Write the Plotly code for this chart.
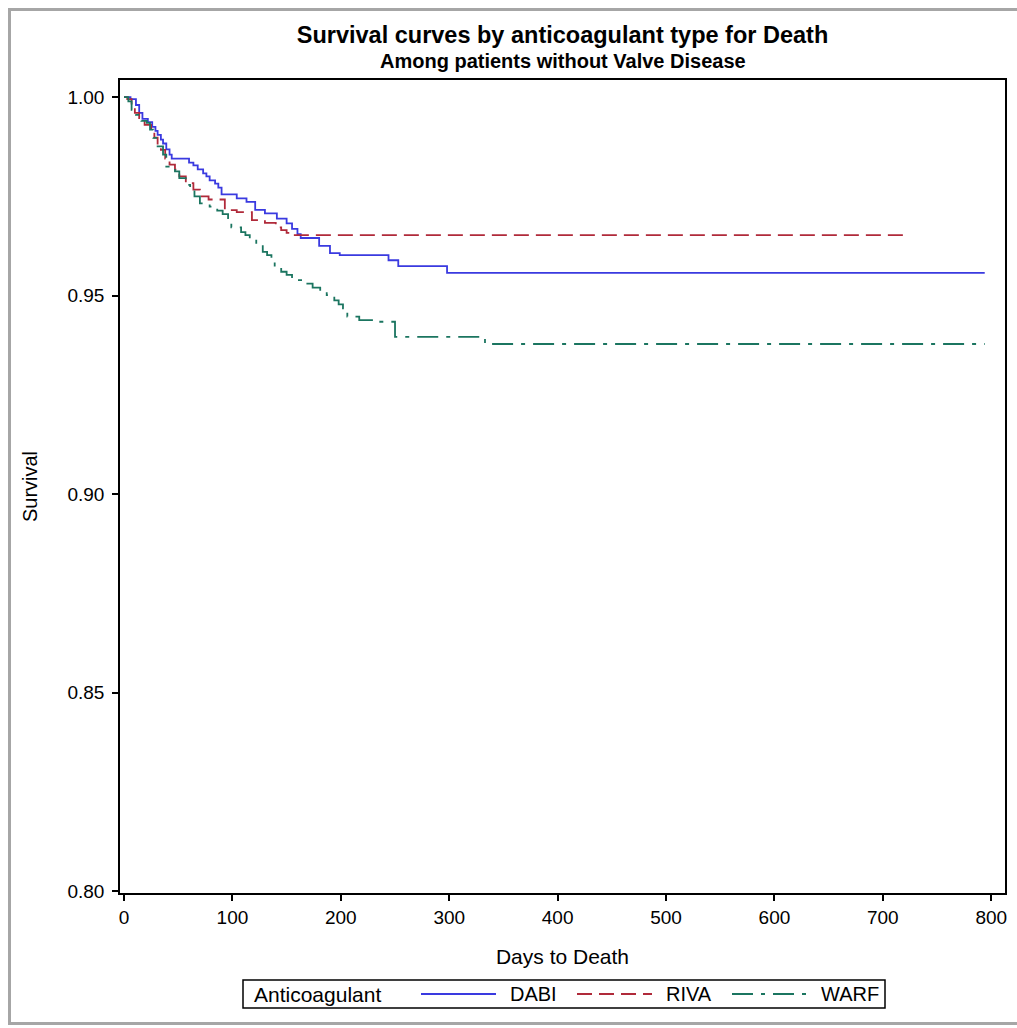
import plotly.graph_objects as go

# ---- data ----
dabi_days = [0, 6, 11, 14, 17, 22, 26, 29, 31, 34, 36, 39, 42, 44, 60, 64, 68, 73, 76, 79,
             84, 87, 90, 104, 113, 121, 130, 141, 150, 155, 160, 163, 180, 190, 199, 244, 253, 298, 794]
dabi_surv = [1.0, 0.9995, 0.998, 0.996, 0.9945, 0.9937, 0.9925, 0.9915, 0.9905, 0.9893,
             0.9883, 0.9868, 0.9855, 0.9845, 0.9835, 0.9828, 0.9818, 0.9808, 0.98, 0.979,
             0.9782, 0.9772, 0.9755, 0.9745, 0.9736, 0.9716, 0.9707, 0.9694, 0.9682, 0.9668,
             0.9655, 0.9645, 0.9625, 0.9607, 0.9602, 0.9589, 0.9574, 0.9557, 0.9557]

riva_days = [0, 3, 7, 10, 14, 19, 25, 28, 31, 34, 38, 42, 47, 51, 57, 64, 70, 78, 93, 104,
             118, 130, 140, 145, 150, 155, 720]
riva_surv = [1.0, 0.9995, 0.998, 0.996, 0.9947, 0.993, 0.9914, 0.9898, 0.988, 0.9867,
             0.9845, 0.983, 0.9817, 0.98, 0.9783, 0.9767, 0.975, 0.9742, 0.9715, 0.971,
             0.969, 0.9683, 0.9672, 0.9665, 0.9658, 0.9652, 0.9652]

warf_days = [0, 4, 7, 11, 16, 21, 24, 27, 31, 36, 39, 47, 51, 57, 61, 65, 70, 79, 86, 91,
             96, 99, 108, 112, 116, 122, 128, 132, 136, 139, 145, 150, 155, 160, 168, 174, 181, 187, 194, 198,
             202, 206, 217, 232, 250, 333, 794]
warf_surv = [1.0, 0.9989, 0.9968, 0.9955, 0.994, 0.9935, 0.9918, 0.9897, 0.9876, 0.9855,
             0.9825, 0.9813, 0.9796, 0.9779, 0.9767, 0.975, 0.9732, 0.9724, 0.9714, 0.9705,
             0.9695, 0.9672, 0.966, 0.9652, 0.9644, 0.9628, 0.961, 0.9602, 0.9594, 0.957,
             0.956, 0.9552, 0.9544, 0.9539, 0.953, 0.952, 0.951, 0.9501, 0.9488, 0.9478,
             0.9468, 0.9447, 0.9438, 0.9434, 0.9396, 0.9378, 0.9378]

series_names = ["DABI", "RIVA", "WARF"]
x_ticks = [0, 100, 200, 300, 400, 500, 600, 700, 800]
y_ticks = [0.80, 0.85, 0.90, 0.95, 1.00]

FONT = "Liberation Sans, Arial, sans-serif"
W, H = 1017, 1028
L, R, T, B = 120, 12, 80, 135
PW, PH = W - L - R, H - T - B

COLORS = ["#3a3ae0", "#b02a3a", "#1b7560"]
DASHES = ["solid", "15px,7px", "21px,8px,4px,8px"]


def px_x(p):
    return (p - L) / PW


def px_y(p):
    return (H - B - p) / PH


fig = go.Figure()
for name, xs, ys, col, dash in zip(series_names,
                                   [dabi_days, riva_days, warf_days],
                                   [dabi_surv, riva_surv, warf_surv],
                                   COLORS, DASHES):
    fig.add_trace(go.Scatter(x=xs, y=ys, mode="lines", name=name, showlegend=False,
                             line=dict(shape="hv", color=col, width=1.8, dash=dash)))

axis_common = dict(showline=True, linecolor="black", linewidth=1.5, mirror=True,
                   ticks="outside", ticklen=6, tickwidth=1.5, tickcolor="black",
                   showgrid=False, zeroline=False, automargin=False,
                   tickfont=dict(family=FONT, size=19, color="black"))

fig.update_xaxes(range=[-3.7, 812.7], tickvals=x_ticks,
                 title=dict(text="Days to Death", font=dict(family=FONT, size=21, color="black"), standoff=23),
                 **axis_common)
fig.update_yaxes(range=[0.7995, 1.0043], tickvals=y_ticks, tickformat=".2f",
                 title=dict(text="Survival", font=dict(family=FONT, size=20, color="black"), standoff=24),
                 ticklabelstandoff=4,
                 **axis_common)

# ---- manual legend (box, title, sample lines, labels) ----
shapes = [dict(type="rect", xref="paper", yref="paper",
               x0=px_x(9.5), x1=px_x(1022), y0=px_y(1023.5), y1=px_y(9.5),
               line=dict(color="#a6a6a6", width=3), fillcolor="rgba(0,0,0,0)", layer="below"),
          dict(type="rect", xref="paper", yref="paper",
               x0=px_x(243), x1=px_x(885), y0=px_y(1008), y1=px_y(980),
               line=dict(color="black", width=1.5), fillcolor="white")]
annotations = [dict(text="<b>Among patients without Valve Disease</b>", xref="paper", yref="paper",
                    x=0.5, y=px_y(61), xanchor="center", yanchor="middle", showarrow=False,
                    font=dict(family=FONT, size=20, color="black")),
               dict(text="Anticoagulant", xref="paper", yref="paper",
                    x=px_x(252), y=px_y(994), xanchor="left", yanchor="middle", showarrow=False,
                    font=dict(family=FONT, size=21, color="black"))]
sample_x = [(421, 496), (577, 652), (732, 807)]
for name, col, dash, (sx0, sx1) in zip(series_names, COLORS, DASHES, sample_x):
    shapes.append(dict(type="line", xref="paper", yref="paper",
                       x0=px_x(sx0), x1=px_x(sx1), y0=px_y(994), y1=px_y(994),
                       line=dict(color=col, width=1.8, dash=dash)))
    annotations.append(dict(text=name, xref="paper", yref="paper",
                            x=px_x(sx1 + 12), y=px_y(994), xanchor="left", yanchor="middle",
                            showarrow=False, font=dict(family=FONT, size=20, color="black")))

fig.update_layout(
    width=W, height=H,
    margin=dict(l=L, r=R, t=T, b=B, pad=0),
    paper_bgcolor="white", plot_bgcolor="white",
    showlegend=False,
    title=dict(text="<b>Survival curves by anticoagulant type for Death</b>",
               font=dict(family=FONT, size=23.5, color="black"),
               x=0.5, xref="paper", xanchor="center",
               y=1 - 35 / H, yref="container", yanchor="middle"),
    shapes=shapes,
    annotations=annotations,
)

fig.write_html("out.html", config={"displayModeBar": False},
               post_script="document.body.style.margin='0';document.body.style.overflow='hidden';")
